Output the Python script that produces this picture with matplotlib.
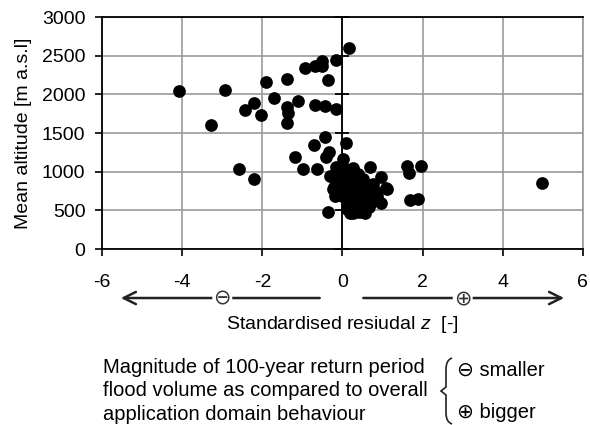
import numpy as np
import matplotlib.pyplot as plt
from matplotlib.path import Path
from matplotlib.patches import PathPatch

plt.rcParams['font.family'] = ['Liberation Sans', 'DejaVu Sans']
plt.rcParams['mathtext.fontset'] = 'custom'
plt.rcParams['mathtext.it'] = 'Liberation Sans:italic'
plt.rcParams['mathtext.rm'] = 'Liberation Sans'

# standardised residual z and mean altitude of each catchment
z = [-4.08, -2.93, -3.27, -2.59, -2.21, -2.44, -2.20, -2.03, -1.92, -1.72,
     -1.39, -1.39, -1.37, -1.39, -1.12, -0.94, -0.68, -0.51, -0.51, -0.15,
     0.15, -0.35, -0.68, -0.43, -0.16, -0.43, 0.08, -0.71, -0.33, -0.41,
     -1.19, -0.99, -0.63, -0.32, -0.35, 1.62, 1.65, 1.97, 1.68, 1.89,
     4.98, 0.68, 0.97, 1.08, 0.77, 0.97, 0.56, 0.27, 0.02, 0.02,
     0.27, 0.39, -0.16, -0.19, -0.19, -0.23, 0.18, 0.52, 1.10,
     -0.15, 0.00, 0.10, 0.20, 0.30, 0.15, 0.25, 0.35, 0.45, 0.30,
     0.20, 0.10, 0.00, -0.10, -0.20, 0.40, 0.50, 0.60, 0.55, 0.45,
     0.35, 0.25, 0.60, 0.70, 0.75, 0.65, 0.40, 0.25, 0.10, 0.05,
     0.50, 0.35, 0.15, -0.05, 0.85, 0.80]
altitude = [2040, 2055, 1600, 1030, 900, 1800, 1890, 1735, 2160, 1950,
            2200, 1830, 1755, 1630, 1915, 2340, 2370, 2430, 2365, 2450,
            2595, 2180, 1865, 1855, 1815, 1450, 1370, 1345, 1255, 1185,
            1185, 1030, 1030, 940, 478, 1080, 985, 1078, 632, 652,
            860, 1055, 928, 795, 840, 600, 460, 460, 1160, 1060,
            1045, 975, 1060, 800, 680, 780, 460, 480, 780,
            900, 870, 820, 780, 740, 700, 650, 600, 560, 520,
            560, 620, 680, 740, 800, 700, 650, 600, 720, 800,
            850, 900, 780, 700, 620, 540, 480, 480, 520, 760,
            900, 960, 960, 1000, 680, 750]

xticks = [-6, -4, -2, 0, 2, 4, 6]
yticks = [0, 500, 1000, 1500, 2000, 2500, 3000]

fs = 14
W, H = 590, 425

fig = plt.figure(figsize=(5.9, 4.25), dpi=100)
ax = fig.add_axes([0.173, 0.414, 0.815, 0.546])

ax.scatter(z, altitude, s=84, color='black', zorder=3, linewidths=0)

ax.set_xlim(-6, 6)
ax.set_ylim(0, 3000)
ax.set_xticks(xticks)
ax.set_yticks(yticks)
ax.set_xticklabels([str(t) for t in xticks])
ax.grid(True, color='#9a9a9a', linewidth=1.2)
ax.set_axisbelow(True)
ax.tick_params(axis='both', labelsize=fs, length=5, width=1.2, color='black')
ax.tick_params(axis='x', pad=13)
ax.tick_params(axis='y', pad=7)
for side in ['left', 'bottom', 'top']:
    ax.spines[side].set_color('black')
    ax.spines[side].set_linewidth(1.3)
ax.spines['right'].set_color('#9a9a9a')
ax.spines['right'].set_linewidth(1.2)

# vertical axis crossing at z = 0
ax.axvline(0, color='black', linewidth=1.3, zorder=2)
ax.plot(np.zeros(len(yticks)), yticks, ls='none', marker='_', ms=10,
        mew=1.3, color='black', zorder=2, clip_on=False)

ax.set_ylabel('Mean altitude [m a.s.l]', fontsize=fs, labelpad=7)

# arrows below the x axis
tr = ax.get_xaxis_transform()
arrow_y = -0.211
ax.annotate('', xy=(-5.6, arrow_y), xytext=(-0.5, arrow_y), xycoords=tr,
            textcoords=tr, annotation_clip=False,
            arrowprops=dict(arrowstyle='->', lw=1.8, color='#222222',
                            mutation_scale=22))
ax.annotate('', xy=(5.6, arrow_y), xytext=(0.45, arrow_y), xycoords=tr,
            textcoords=tr, annotation_clip=False,
            arrowprops=dict(arrowstyle='->', lw=1.8, color='#222222',
                            mutation_scale=22))
ax.text(-3, arrow_y, '\u2296', transform=tr, ha='center', va='center',
        fontsize=15, family='DejaVu Sans', color='#333333',
        bbox=dict(boxstyle='circle,pad=0.0', fc='white', ec='none'))
ax.text(3, arrow_y, '\u2295', transform=tr, ha='center', va='center',
        fontsize=15, family='DejaVu Sans', color='#333333',
        bbox=dict(boxstyle='circle,pad=0.0', fc='white', ec='none'))

ax.text(0.5, -0.323, 'Standardised resiudal $z$  [-]', transform=ax.transAxes,
        ha='center', va='center', fontsize=fs)

# explanation below
fig.text(0.175, (H - 391) / H,
         'Magnitude of 100-year return period\n'
         'flood volume as compared to overall\n'
         'application domain behaviour',
         ha='left', va='center', fontsize=14.5, linespacing=1.3)

# thin curly brace
bx = [452, 446, 446, 446, 441, 446, 446, 446, 452]
by = [358, 360, 369, 387, 391, 395, 413, 422, 424]
verts = [(x / W, 1 - y / H) for x, y in zip(bx, by)]
codes = [Path.MOVETO, Path.CURVE3, Path.CURVE3, Path.LINETO, Path.LINETO,
         Path.LINETO, Path.LINETO, Path.CURVE3, Path.CURVE3]
verts = [verts[0], verts[1], verts[2], verts[3], verts[4], verts[5],
         verts[6], verts[7], verts[8]]
brace = PathPatch(Path(verts, codes), transform=fig.transFigure,
                  fill=False, lw=1.2, edgecolor='#222222')
fig.add_artist(brace)

fig.text(457 / W, (H - 370) / H, '\u2296 smaller', ha='left',
         va='center', fontsize=14.5)
fig.text(457 / W, (H - 412) / H, '\u2295 bigger', ha='left',
         va='center', fontsize=14.5)

fig.savefig('out.png', dpi=100)
